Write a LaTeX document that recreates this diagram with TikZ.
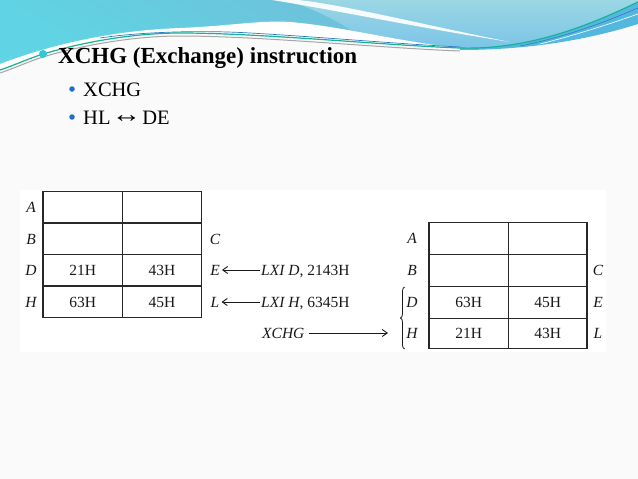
\documentclass[tikz,border=0pt]{standalone}
\usepackage{fontspec}
\usepackage{graphicx}
\setmainfont{Liberation Serif}
\usetikzlibrary{arrows.meta,decorations.pathreplacing}
\definecolor{hdrtop}{RGB}{118,182,212}
\definecolor{hdrbot}{RGB}{96,212,228}
\definecolor{hdrlight}{RGB}{155,214,228}
\definecolor{hdrlighttwo}{RGB}{122,196,232}
\definecolor{bandblue}{RGB}{84,184,222}
\definecolor{tealline}{RGB}{24,178,150}
\definecolor{thinblue}{RGB}{50,120,200}
\definecolor{bulletcyan}{RGB}{48,200,215}
\definecolor{bulletblue}{RGB}{30,110,210}
\definecolor{slidebg}{RGB}{250,250,250}
\definecolor{tabline}{RGB}{40,40,40}
\definecolor{textc}{RGB}{25,25,25}
\begin{document}
\begin{tikzpicture}[x=1pt,y=-1pt,
  reg/.style={font=\fontsize{15.5}{18}\selectfont\itshape, inner sep=0pt, text height=10.3pt, text depth=0pt, text=textc},
  val/.style={font=\fontsize{15.5}{18}\selectfont, inner sep=0pt, text height=10.3pt, text depth=0pt, text=textc},
  instr/.style={font=\fontsize{15.5}{18}\selectfont, inner sep=0pt, text height=10.3pt, text depth=0pt, anchor=west, text=textc},
  gridline/.style={draw=tabline, line width=1.3pt},
  arr/.style={-{Straight Barb[length=5pt,width=7pt]}, line width=0.9pt, draw=textc},
  bul/.style={circle, inner sep=0pt, minimum size=#1}]
\useasboundingbox (0,0) rectangle (638,479);
% slide background
\fill[slidebg] (0,0) rectangle (638,479);
% header: blue area above the line
\shade[top color=hdrtop, bottom color=hdrbot, shading angle=-30]
  (0,0) -- (638,0) -- (638,2)
  .. controls (590,25) and (530,50) .. (460,48)
  .. controls (380,45) and (260,33) .. (180,33)
  .. controls (140,33) and (90,40) .. (43,54)
  .. controls (30,58) and (15,65) .. (0,70) -- cycle;
% right lighter area
\shade[top color=hdrlight, bottom color=hdrlighttwo]
  (285,0) -- (638,0) -- (638,2)
  .. controls (590,25) and (530,50) .. (460,48)
  .. controls (420,46) and (390,44) .. (370,43)
  .. controls (350,28) and (320,10) .. (285,0) -- cycle;
% white hill
\fill[white]
  (0,64) .. controls (40,49) and (100,31) .. (180,28)
  .. controls (230,26) and (260,20) .. (290,22)
  .. controls (340,26) and (400,42) .. (460,48)
  .. controls (380,45) and (260,33) .. (180,33)
  .. controls (140,33) and (90,40) .. (43,54)
  .. controls (30,58) and (15,65) .. (0,70) -- cycle;
% white streak
\fill[white, opacity=0.92]
  (272,0) .. controls (335,10) and (420,28) .. (510,42)
  .. controls (420,24) and (345,5) .. (298,0) -- cycle;
% right blue band below the line
\fill[bandblue]
  (460,48) .. controls (530,50) and (590,25) .. (638,2)
  -- (638,24) .. controls (600,36) and (540,50) .. (460,50) -- cycle;
% lines
\draw[gray!70, line width=1pt]
  (0,73) .. controls (15,68) and (30,61) .. (43,57)
  .. controls (90,43) and (140,36) .. (180,36)
  .. controls (260,36) and (380,48) .. (460,51);
\draw[thinblue, line width=0.7pt]
  (100,38) .. controls (140,32) and (200,30) .. (250,33)
  .. controls (320,37) and (400,44) .. (460,47);
\draw[tealline, line width=1.2pt]
  (0,70) .. controls (15,65) and (30,58) .. (43,54)
  .. controls (90,40) and (140,33) .. (180,33)
  .. controls (260,33) and (380,45) .. (460,48)
  .. controls (530,50) and (590,25) .. (638,2);
\draw[thinblue, line width=0.6pt] (520,46) .. controls (570,36) and (610,20) .. (638,8);
\draw[white, line width=0.6pt] (540,44) .. controls (580,34) and (615,22) .. (638,14);
% title and bullets
\node[bul=8pt, fill=bulletcyan] (b0) at (43,54) {};
\node[anchor=base west, inner sep=0pt, font=\fontsize{23}{26}\selectfont\bfseries, text=black] (title) at (58,63) {XCHG (Exchange) instruction};
\node[bul=5.5pt, fill=bulletblue] (b1) at (72,89) {};
\node[anchor=base west, inner sep=0pt, font=\fontsize{20.5}{24}\selectfont, text=black] (s1) at (83,96) {XCHG};
\node[bul=5.5pt, fill=bulletblue] (b2) at (72,117) {};
\node[anchor=base west, inner sep=0pt, font=\fontsize{20.5}{24}\selectfont, text=black] (s2) at (83,124) {HL\kern1pt\raisebox{1.5pt}{\scalebox{1.45}[1.2]{↔}}\kern1pt DE};
% diagram area
\fill[white] (20,190) rectangle (606,352);
% left table
\draw[gridline] (43,191.5) rectangle (201.5,317.5);
\draw[gridline] (122.5,191.5) -- (122.5,317.5);
\foreach \yy in {223,254.5,286} \draw[gridline] (43,\yy) -- (201.5,\yy);
\node[reg] (lA) at (31,207) {A};
\node[reg] (lB) at (31,239) {B};
\node[reg] (lD) at (31,270) {D};
\node[reg] (lH) at (31,302) {H};
\node[reg] (lC) at (215,239) {C};
\node[reg] (lE) at (215,270) {E};
\node[reg] (lL) at (215,302) {L};
\node[val] (lv1) at (82.75,270) {21H};
\node[val] (lv2) at (162,270) {43H};
\node[val] (lv3) at (82.75,302) {63H};
\node[val] (lv4) at (162,302) {45H};
% instructions
\node[instr] (lxid) at (261,270) {\textit{LXI D}, 2143H};
\node[instr] (lxih) at (261,302) {\textit{LXI H}, 6345H};
\node[instr] (xchg) at (262,333) {\textit{XCHG}};
\coordinate (brtip) at (388,333);
\draw[arr] ([xshift=-1pt]lxid.west) -- ([xshift=2pt]lE.east);
\draw[arr] ([xshift=-1pt]lxih.west) -- ([xshift=2pt]lL.east);
\draw[arr] ([xshift=4pt]xchg.east) -- (brtip);
% right table
\draw[gridline] (429,222.7) rectangle (587,348.3);
\draw[gridline] (508.3,222.7) -- (508.3,348.3);
\foreach \yy in {254.3,286.5,318.3} \draw[gridline] (429,\yy) -- (587,\yy);
\node[reg] (rA) at (412,238.5) {A};
\node[reg] (rB) at (412,270.4) {B};
\node[reg] (rD) at (412,302.4) {D};
\node[reg] (rH) at (412,333.3) {H};
\node[reg] (rC) at (598,270.4) {C};
\node[reg] (rE) at (598,302.4) {E};
\node[reg] (rL) at (598,333.3) {L};
\node[val] (rv1) at (468.7,302.4) {63H};
\node[val] (rv2) at (547.7,302.4) {45H};
\node[val] (rv3) at (468.7,333.3) {21H};
\node[val] (rv4) at (547.7,333.3) {43H};
% brace
\draw[textc, line width=0.8pt, decorate, decoration={brace, amplitude=4pt}] (404.5,349) -- (404.5,287);
\end{tikzpicture}
\end{document}
